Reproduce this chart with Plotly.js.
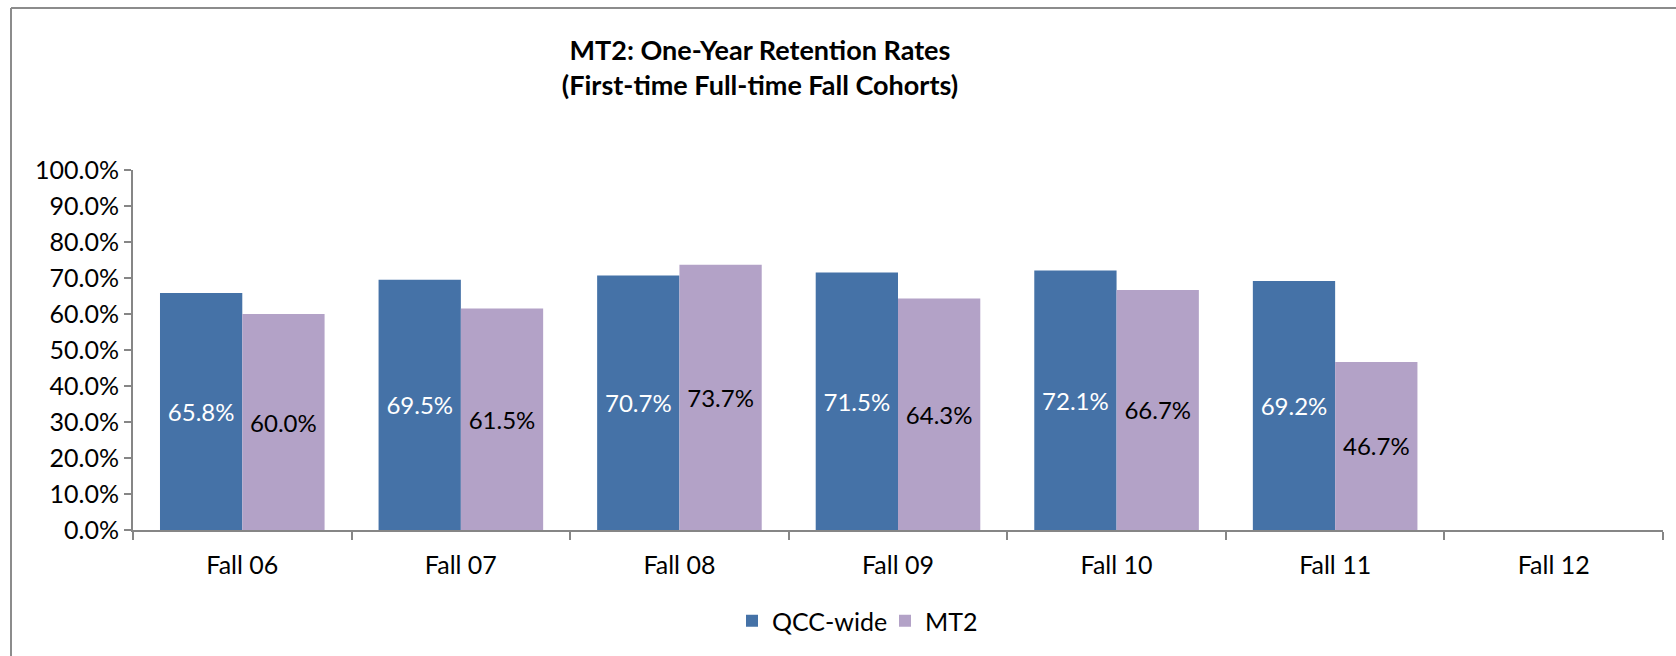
<!DOCTYPE html>
<html>
<head>
<meta charset="utf-8">
<script src="https://cdn.plot.ly/plotly-3.0.1.min.js"></script>
<style>
  html, body { margin: 0; padding: 0; background: #ffffff; }
  #chart { width: 1676px; height: 656px; }
</style>
</head>
<body>
<div id="chart"></div>
<script>
const categories = ["Fall 06", "Fall 07", "Fall 08", "Fall 09", "Fall 10", "Fall 11", "Fall 12"];
const qccWide = [0.658, 0.695, 0.707, 0.715, 0.721, 0.692, null];
const mt2 = [0.600, 0.615, 0.737, 0.643, 0.667, 0.467, null];
const seriesNames = ["QCC-wide", "MT2"];
const yTickValues = [0, 0.1, 0.2, 0.3, 0.4, 0.5, 0.6, 0.7, 0.8, 0.9, 1.0];

const FONT = "Lato, 'Open Sans', 'DejaVu Sans', sans-serif";
const BLUE = "#4572A7";
const PURPLE = "#B3A2C7";
const AXIS = "#868686";

const fmt = v => (v === null ? "" : (v * 100).toFixed(1) + "%");

const traces = [
  {
    type: "bar",
    name: seriesNames[0],
    x: categories,
    y: qccWide,
    text: qccWide.map(fmt),
    textposition: "inside",
    insidetextanchor: "middle",
    textangle: 0,
    constraintext: "none",
    insidetextfont: { family: FONT, size: 24, color: "#ffffff" },
    marker: { color: BLUE },
    hoverinfo: "none"
  },
  {
    type: "bar",
    name: seriesNames[1],
    x: categories,
    y: mt2,
    text: mt2.map(fmt),
    textposition: "inside",
    insidetextanchor: "middle",
    textangle: 0,
    constraintext: "none",
    insidetextfont: { family: FONT, size: 24, color: "#000000" },
    marker: { color: PURPLE },
    hoverinfo: "none"
  }
];

const layout = {
  width: 1676,
  height: 656,
  margin: { l: 133, r: 13, t: 170, b: 126 },
  paper_bgcolor: "#ffffff",
  plot_bgcolor: "#ffffff",
  font: { family: FONT, size: 24, color: "#000000" },
  barmode: "group",
  bargap: 0.247,
  bargroupgap: 0,
  title: {
    text: "<b>MT2: One-Year Retention Rates</b><br><b>(First-time Full-time Fall Cohorts)</b>",
    font: { family: FONT, size: 27, color: "#000000" },
    xref: "container",
    yref: "container",
    x: 760 / 1676,
    xanchor: "center",
    y: 1 - 60 / 656,
    yanchor: "middle"
  },
  xaxis: {
    type: "category",
    range: [-0.5, 6.5],
    showline: true,
    linecolor: AXIS,
    linewidth: 2,
    ticks: "outside",
    tickson: "boundaries",
    ticklen: 8,
    tickwidth: 2,
    tickcolor: AXIS,
    ticklabelstandoff: 12,
    showgrid: false,
    zeroline: false,
    tickfont: { family: FONT, size: 25, color: "#000000" },
    fixedrange: true
  },
  yaxis: {
    range: [0, 1],
    tickvals: yTickValues,
    tickformat: ".1%",
    showline: true,
    linecolor: AXIS,
    linewidth: 2,
    ticks: "outside",
    ticklen: 7,
    tickwidth: 2,
    tickcolor: AXIS,
    showgrid: false,
    zeroline: false,
    tickfont: { family: FONT, size: 25, color: "#000000" },
    fixedrange: true
  },
  showlegend: true,
  legend: {
    orientation: "h",
    xref: "container",
    yref: "container",
    x: 732 / 1676,
    xanchor: "left",
    y: 1 - 621 / 656,
    yanchor: "middle",
    entrywidth: 108,
    entrywidthmode: "pixels",
    font: { family: FONT, size: 25, color: "#000000" },
    itemclick: false,
    itemdoubleclick: false,
    traceorder: "normal"
  },
  shapes: [
    {
      type: "line", xref: "paper", yref: "paper",
      x0: (11 - 133) / 1530, x1: (11 - 133) / 1530,
      y0: (530 - 8) / 360, y1: (530 - 700) / 360,
      line: { color: "#8c8c8c", width: 2 }
    },
    {
      type: "line", xref: "paper", yref: "paper",
      x0: (11 - 133) / 1530, x1: (1700 - 133) / 1530,
      y0: (530 - 8) / 360, y1: (530 - 8) / 360,
      line: { color: "#8c8c8c", width: 2 }
    }
  ]
};

Plotly.newPlot("chart", traces, layout, { displayModeBar: false, staticPlot: true });
</script>
</body>
</html>
